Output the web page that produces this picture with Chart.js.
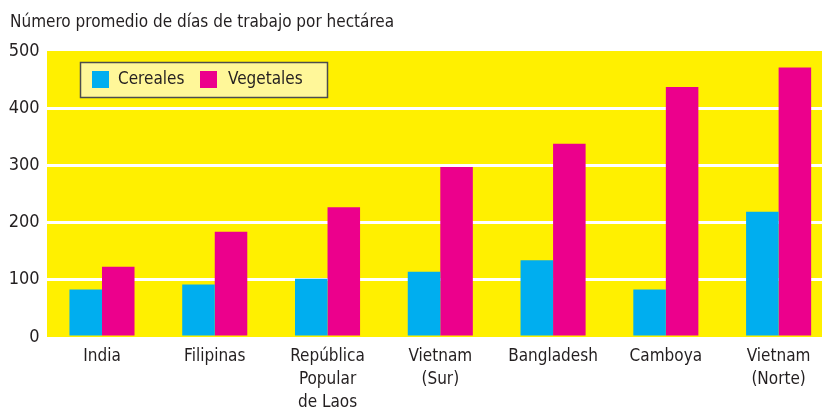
<!DOCTYPE html>
<html>
<head>
<meta charset="utf-8">
<script src="https://cdn.jsdelivr.net/npm/chart.js@4"></script>
<style>
html,body{margin:0;padding:0;background:#fff;overflow:hidden;}
#wrap{width:822px;height:411px;position:relative;overflow:hidden;}
</style>
</head>
<body>
<div id="wrap"><canvas id="c" width="835" height="411"></canvas></div>
<script>
const categories = [
  "India",
  "Filipinas",
  ["República", "Popular", "de Laos"],
  ["Vietnam", "(Sur)"],
  "Bangladesh",
  "Camboya",
  ["Vietnam", "(Norte)"]
];
const cereales = [83, 92, 102, 114, 134, 83, 219];
const vegetales = [123, 184, 227, 297, 338, 437, 471];
const yTicks = [0, 100, 200, 300, 400, 500];
const titleText = "Número promedio de días de trabajo por hectárea";

const FONT = "'DejaVu Sans Condensed', 'Liberation Sans Narrow', sans-serif";
const TEXT = "#231f20";

const bgPlugin = {
  id: 'bg',
  beforeDraw(chart) {
    const {ctx, chartArea: a} = chart;
    ctx.save();
    ctx.fillStyle = '#fff000';
    ctx.fillRect(47, a.top, a.right - 47, a.bottom - a.top);
    ctx.restore();
  },
  afterDraw(chart) {
    const ctx = chart.ctx;
    ctx.save();
    ctx.fillStyle = TEXT;
    ctx.font = "17px " + FONT;
    ctx.textBaseline = 'alphabetic';
    ctx.textAlign = 'left';
    ctx.fillText(titleText, 10, 27);
    ctx.fillStyle = '#fff799';
    ctx.fillRect(80, 62, 248, 36);
    ctx.strokeStyle = '#4d4d4d';
    ctx.lineWidth = 1.5;
    ctx.strokeRect(80.5, 62.5, 247, 35);
    const ds = chart.data.datasets;
    const items = [[92, 118], [200, 228]];
    ds.forEach((d, i) => {
      ctx.fillStyle = d.backgroundColor;
      ctx.fillRect(items[i][0], 71, 17, 17);
      ctx.fillStyle = TEXT;
      ctx.font = "17px " + FONT;
      ctx.textBaseline = 'middle';
      ctx.fillText(d.label, items[i][1], 80);
    });
    ctx.restore();
  }
};

new Chart(document.getElementById('c'), {
  type: 'bar',
  data: {
    labels: categories,
    datasets: [
      {label: 'Cereales', data: cereales, backgroundColor: '#00aeef', borderWidth: 0},
      {label: 'Vegetales', data: vegetales, backgroundColor: '#ec008c', borderWidth: 0}
    ]
  },
  options: {
    responsive: false,
    animation: false,
    devicePixelRatio: 1,
    layout: {padding: {top: 51, right: 0, left: 0, bottom: 0}},
    plugins: {legend: {display: false}, title: {display: false}, tooltip: {enabled: false}},
    datasets: {bar: {categoryPercentage: 0.577, barPercentage: 1.0}},
    scales: {
      x: {
        grid: {display: false, drawTicks: false},
        border: {display: false},
        ticks: {color: TEXT, font: {family: FONT, size: 17, lineHeight: 1.35}, padding: 8, maxRotation: 0, autoSkip: false},
        afterFit(s) { s.height = 74; }
      },
      y: {
        min: 0, max: 500,
        afterBuildTicks(s) { s.ticks = yTicks.map(v => ({value: v})); },
        grid: {
          color: c => (c.tick && (c.tick.value === 0 || c.tick.value === 500)) ? 'rgba(0,0,0,0)' : '#ffffff',
          lineWidth: 3,
          drawTicks: false
        },
        border: {display: false},
        ticks: {color: TEXT, font: {family: FONT, size: 18}, padding: 6},
        afterFit(s) { s.width = 45.6; }
      }
    }
  },
  plugins: [bgPlugin]
});
</script>
</body>
</html>
